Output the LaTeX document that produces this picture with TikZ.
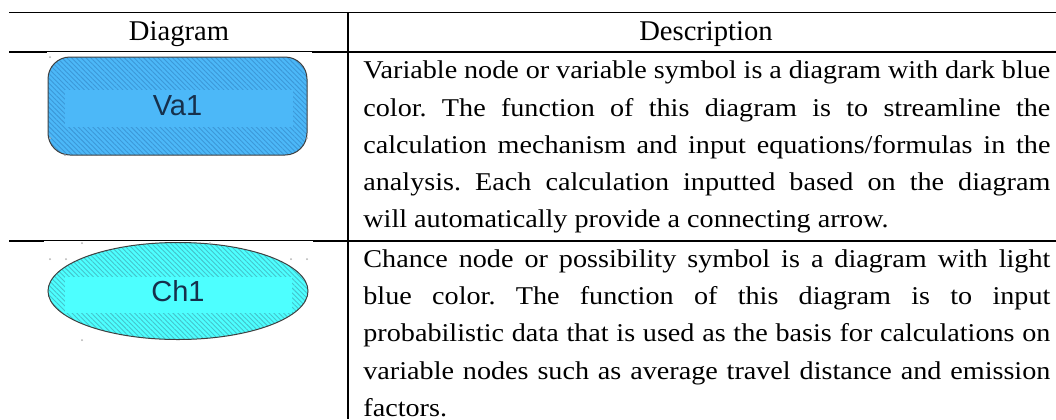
\documentclass[tikz,border=0pt]{standalone}
\usepackage{fontspec}
\setmainfont{Liberation Serif}
\newfontfamily\bodyfont[FakeStretch=1.10]{Liberation Serif}
\newfontfamily\labelfont{Liberation Sans}
\usetikzlibrary{shapes.geometric}
\usetikzlibrary{patterns.meta}

\definecolor{varfill}{HTML}{4CB8F8}
\definecolor{varhatch}{HTML}{3C98D8}
\definecolor{chfill}{HTML}{4DFFFF}
\definecolor{chhatch}{HTML}{44C4CC}
\definecolor{labelcol}{HTML}{16304C}

\tikzset{
  rule/.style={line width=0.75pt},
  head/.style={font=\fontsize{14.3}{17}\selectfont, inner sep=0pt, anchor=base},
  desc/.style={font=\bodyfont\fontsize{12.8}{18.6}\selectfont,
    execute at begin node={\frenchspacing\tolerance=9999\relax\hyphenpenalty=10000\relax},
    text width=343.5pt, align=justify, inner sep=0pt, anchor=north west},
  varnode/.style={rectangle, rounded corners=11pt, draw=black!75, line width=0.5pt,
    minimum width=129.5pt, minimum height=49pt, inner sep=0pt,
    preaction={fill=varfill}, pattern={Lines[angle=-45,distance=1.7pt,line width=0.45pt]},
    pattern color=varhatch},
  chancenode/.style={ellipse, draw=black!75, line width=0.5pt,
    minimum width=130pt, minimum height=48.5pt, inner sep=0pt,
    preaction={fill=chfill}, pattern={Lines[angle=-45,distance=1.7pt,line width=0.45pt]},
    pattern color=chhatch},
  nodelabel/.style={font=\labelfont\fontsize{14.5}{16}\selectfont, text=labelcol, inner sep=0pt},
}

\begin{document}
\begin{tikzpicture}[x=0.5pt, y=-0.5pt]

    \useasboundingbox (0,0) rectangle (1056,419);

    % Table rules
    \draw[rule] (9,12.5) -- (1056,12.5);
    \draw[rule] (9,52) -- (1056,52);
    \draw[rule] (9,241) -- (1056,241);
    \draw[rule] (348,12.5) -- (348,419);

    % Header
    \node[head] (diaghead) at (179,40.7) {Diagram};
    \node[head] (deschead) at (706,40.7) {Description};

    % Image backgrounds
    \fill[white] (47,52.1) rectangle (312,170);
    \fill[white] (44,241.1) rectangle (313,360);

    % Variable node
    \node[varnode] (var) at (177.5,106) {};
    \fill[varfill] (65,90) rectangle (293,127);
    \node[nodelabel] (varlabel) at (var) {Va1};

    % Chance node
    \node[chancenode] (chance) at (178,291) {};
    \fill[chfill] (65,277) rectangle (292,313);
    \node[nodelabel] (chancelabel) at (chance) {Ch1};

    % Selection handles
    \foreach \p in {(50,57),(50,138),(65,155),(307,138),
                    (50,259),(66,259),(82,243),(210,243),(291,259),(307,259),(82,340)}
        \fill[black!30] \p circle (0.5pt);

    % Descriptions
    \node[desc] (vardesc) at (363,60.8) {Variable node or variable symbol is a diagram with dark blue\linebreak
        color. The function of this diagram is to streamline the\linebreak
        calculation mechanism and input equations/formulas in the\linebreak
        analysis. Each calculation inputted based on the diagram\linebreak
        will automatically provide a connecting arrow.};
    \node[desc] (chancedesc) at (363,249.3) {Chance node or possibility symbol is a diagram with light\linebreak
        blue color. The function of this diagram is to input\linebreak
        probabilistic data that is used as the basis for calculations on\linebreak
        variable nodes such as average travel distance and emission\linebreak
        factors.};

\end{tikzpicture}
\end{document}
